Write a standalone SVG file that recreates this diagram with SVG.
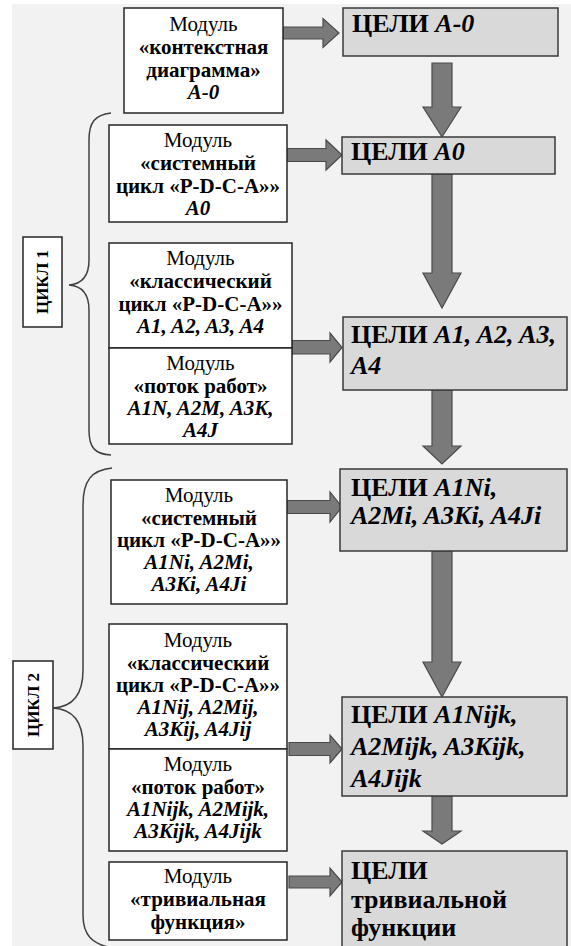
<svg xmlns="http://www.w3.org/2000/svg" width="571" height="946" viewBox="0 0 571 946">
<defs>
<style>
.bg{fill:#f2f2f2}
.mod{fill:#ffffff;stroke:#262626;stroke-width:1.5}
.goal{fill:#d9d9d9;stroke:#3a3a3a;stroke-width:1.5}
.arr{fill:#7a7a7a;stroke:#4a4a4a;stroke-width:1.2;stroke-linejoin:miter}
.brace{fill:none;stroke:#404040;stroke-width:1.5}
.cyc{fill:#ffffff;stroke:#262626;stroke-width:1.5}
text{font-family:"Liberation Serif","Times New Roman",serif;fill:#000}
.mt{font-size:21px;text-anchor:middle;font-weight:bold}
.reg{font-weight:normal}
.it{font-style:italic}
.gt{font-size:26px;font-weight:bold}
.ct{font-size:17px;font-weight:bold;text-anchor:middle}
</style>
</defs>
<rect class="bg" x="12" y="4" width="559" height="942"/>

<g id="connectors">
<polygon class="arr" points="283,27 323,27 323,18.5 339,33 323,47.5 323,39 283,39"/>
<polygon class="arr" points="287,148.5 326,148.5 326,140 342,155 326,170 326,161.5 287,161.5"/>
<polygon class="arr" points="292,340.5 330,340.5 330,333 342,347.5 330,362 330,354 292,354"/>
<polygon class="arr" points="287,500.5 330,500.5 330,492 342,507 330,522 330,513.5 287,513.5"/>
<polygon class="arr" points="289,742.5 330,742.5 330,735 342,749 330,763 330,755.5 289,755.5"/>
<polygon class="arr" points="289,876 330,876 330,868 342,882 330,896 330,888 289,888"/>
<polygon class="arr" points="432,63 452,63 452,107 461,107 442,137 423,107 432,107"/>
<polygon class="arr" points="432,174 452,174 452,273 461,273 442,308 423,273 432,273"/>
<polygon class="arr" points="432,390 452,390 452,446 461,446 442,464 423,446 432,446"/>
<polygon class="arr" points="432,551 452,551 452,662 461,662 442,697 423,662 432,662"/>
<polygon class="arr" points="432,796 452,796 452,831 461,831 442,844 423,831 432,831"/>
<path class="brace" d="M111,113 C95,115 89,122 89,140 L89,260 C89,276 82,284 69,285 C82,286 89,294 89,310 L89,430 C89,448 95,454 111,455"/>
<path class="brace" d="M112,468 C92,470 83,480 83,505 L83,670 C83,695 72,707 53,708 C72,709 83,721 83,746 L83,915 C83,935 92,944 112,948"/>
</g>

<g id="cycle1">
<rect class="cyc" x="23" y="237" width="39" height="90"/>
<text class="ct" transform="translate(48,282) rotate(-90)">ЦИКЛ 1</text>
</g>
<g id="cycle2">
<rect class="cyc" x="13" y="661" width="40" height="88"/>
<text class="ct" transform="translate(39,705) rotate(-90)">ЦИКЛ 2</text>
</g>

<g id="mod-context">
<rect class="mod" x="124" y="8" width="159" height="105"/>
<text class="mt"><tspan class="reg" x="203.5" y="31">Модуль</tspan><tspan x="203.5" y="54">«контекстная</tspan><tspan x="203.5" y="77">диаграмма»</tspan><tspan class="it" x="203.5" y="99">A-0</tspan></text>
</g>
<g id="mod-system-a0">
<rect class="mod" x="109" y="125" width="178" height="97"/>
<text class="mt"><tspan class="reg" x="198" y="147">Модуль</tspan><tspan x="198" y="170">«системный</tspan><tspan x="198" y="193">цикл «P-D-C-A»»</tspan><tspan class="it" x="198" y="215">A0</tspan></text>
</g>
<g id="mod-classic-a1">
<rect class="mod" x="109" y="243" width="183" height="105"/>
<text class="mt"><tspan class="reg" x="200.5" y="265">Модуль</tspan><tspan x="200.5" y="288">«классический</tspan><tspan x="200.5" y="311">цикл «P-D-C-A»»</tspan><tspan class="it" x="200.5" y="333">A1, A2, A3, A4</tspan></text>
</g>
<g id="mod-flow-a1n">
<rect class="mod" x="109" y="348" width="183" height="96"/>
<text class="mt"><tspan class="reg" x="200.5" y="370">Модуль</tspan><tspan x="200.5" y="393">«поток работ»</tspan><tspan class="it" x="200.5" y="415">A1N, A2M, A3K,</tspan><tspan class="it" x="200.5" y="437">A4J</tspan></text>
</g>
<g id="mod-system-a1ni">
<rect class="mod" x="111" y="480" width="176" height="124"/>
<text class="mt"><tspan class="reg" x="199" y="502">Модуль</tspan><tspan x="199" y="525">«системный</tspan><tspan x="199" y="547">цикл «P-D-C-A»»</tspan><tspan class="it" x="199" y="569">A1Ni, A2Mi,</tspan><tspan class="it" x="199" y="591">A3Ki, A4Ji</tspan></text>
</g>
<g id="mod-classic-a1nij">
<rect class="mod" x="109" y="624" width="178" height="125"/>
<text class="mt"><tspan class="reg" x="198" y="647">Модуль</tspan><tspan x="198" y="670">«классический</tspan><tspan x="198" y="692">цикл «P-D-C-A»»</tspan><tspan class="it" x="198" y="714">A1Nij, A2Mij,</tspan><tspan class="it" x="198" y="736">A3Kij, A4Jij</tspan></text>
</g>
<g id="mod-flow-a1nijk">
<rect class="mod" x="109" y="749" width="178" height="102"/>
<text class="mt"><tspan class="reg" x="198" y="771">Модуль</tspan><tspan x="198" y="794">«поток работ»</tspan><tspan class="it" x="198" y="816">A1Nijk, A2Mijk,</tspan><tspan class="it" x="198" y="838">A3Kijk, A4Jijk</tspan></text>
</g>
<g id="mod-trivial">
<rect class="mod" x="109" y="862" width="178" height="78"/>
<text class="mt"><tspan class="reg" x="198" y="883">Модуль</tspan><tspan x="198" y="906">«тривиальная</tspan><tspan x="198" y="929">функция»</tspan></text>
</g>

<g id="goal-a-0">
<rect class="goal" x="343" y="8" width="215" height="48"/>
<text class="gt" x="352" y="32">ЦЕЛИ <tspan class="it">A-0</tspan></text>
</g>
<g id="goal-a0">
<rect class="goal" x="342" y="137" width="213" height="37"/>
<text class="gt" x="351" y="160">ЦЕЛИ <tspan class="it">A0</tspan></text>
</g>
<g id="goal-a1">
<rect class="goal" x="343" y="317" width="224" height="73"/>
<text class="gt"><tspan x="351" y="343">ЦЕЛИ <tspan class="it">A1, A2, A3,</tspan></tspan><tspan class="it" x="351" y="374">A4</tspan></text>
</g>
<g id="goal-a1ni">
<rect class="goal" x="340" y="469" width="227" height="82"/>
<text class="gt"><tspan x="351" y="496">ЦЕЛИ <tspan class="it">A1Ni,</tspan></tspan><tspan class="it" x="351" y="524">A2Mi, A3Ki, A4Ji</tspan></text>
</g>
<g id="goal-a1nijk">
<rect class="goal" x="342" y="697" width="225" height="99"/>
<text class="gt"><tspan x="351" y="723">ЦЕЛИ <tspan class="it">A1Nijk,</tspan></tspan><tspan class="it" x="351" y="755">A2Mijk, A3Kijk,</tspan><tspan class="it" x="351" y="787">A4Jijk</tspan></text>
</g>
<g id="goal-trivial">
<rect class="goal" x="342" y="851" width="225" height="110"/>
<text class="gt"><tspan x="351" y="879">ЦЕЛИ</tspan><tspan x="351" y="908">тривиальной</tspan><tspan x="351" y="936">функции</tspan></text>
</g>
</svg>
